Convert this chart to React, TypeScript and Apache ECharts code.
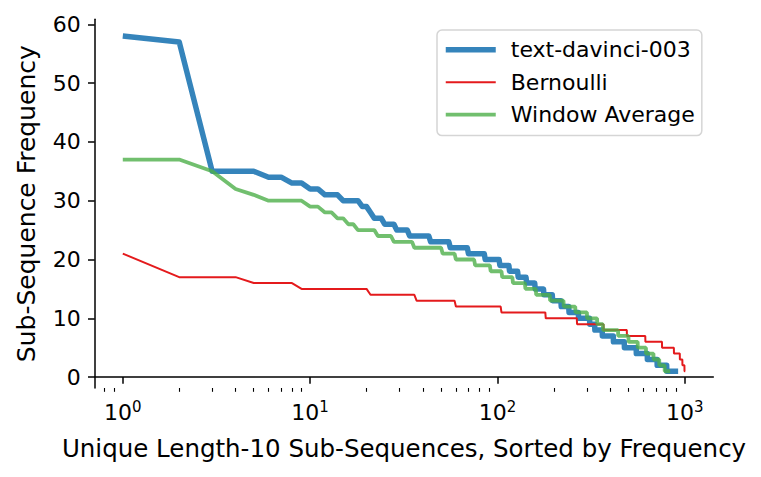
import React, { useEffect, useRef } from "react";
import * as echarts from "echarts";

// Run-length readings: each value holds from the previous run's last rank + 1 up to lastRank.
const davinciValues = [58, 57, 35, 34, 33, 32, 31, 30, 29, 28, 27, 26, 25, 24, 23, 22, 21, 20, 19, 18, 17, 16, 15, 14, 13, 12, 11, 10, 9, 8, 7, 6, 5, 4, 3, 2, 1];
const davinciLastRank = [1, 2, 5, 7, 9, 11, 14, 18, 20, 21, 24, 28, 33, 43, 55, 69, 85, 102, 115, 128, 142, 158, 176, 196, 218, 240, 270, 310, 330, 362, 415, 475, 550, 630, 711, 800, 921];

const bernoulliValues = [21, 17, 16, 15, 14, 13, 12, 11, 10, 9, 8, 7, 6, 5, 4, 3, 2, 1];
const bernoulliLastRank = [1, 4, 8, 20, 36, 59, 104, 180, 265, 368, 490, 615, 755, 874, 940, 970, 995, 1005];

const windowValues = [37, 35, 32, 31, 30, 29, 28, 27, 26, 25, 24, 23, 22, 21, 20, 19, 18, 17, 16, 15, 14, 13, 12, 11, 10, 9, 8, 7, 6, 5, 4, 3, 2, 1];
const windowLastRank = [2, 3, 4, 5, 9, 11, 13, 15, 17, 22, 27, 35, 50, 59, 75, 91, 105, 120, 140, 160, 190, 225, 260, 300, 340, 365, 440, 500, 560, 620, 680, 730, 780, 835];

const seriesNames = ["text-davinci-003", "Bernoulli", "Window Average"];
const yTicks = [0, 10, 20, 30, 40, 50, 60];
const xMajorTicks = [1, 10, 100, 1000];
const xMinorTicks = [0.8, 0.9, 2, 3, 4, 5, 6, 7, 8, 9, 20, 30, 40, 50, 60, 70, 80, 90, 200, 300, 400, 500, 600, 700, 800, 900];

function expand(values: number[], lastRanks: number[]): number[][] {
  const pts: number[][] = [];
  let start = 1;
  values.forEach((v, i) => {
    const end = lastRanks[i];
    pts.push([start, v]);
    if (end > start) pts.push([end, v]);
    start = end + 1;
  });
  return pts;
}

const FONT = "DejaVu Sans";
const TICK_SIZE = 22;
const LABEL_SIZE = 24.5;

export default function App() {
  const ref = useRef<HTMLDivElement>(null);
  useEffect(() => {
    if (!ref.current) return;
    const chart = echarts.init(ref.current, undefined, { renderer: "svg" });
    const axisLineStyle = { color: "#000", width: 1.5 };
    chart.setOption({
      animation: false,
      backgroundColor: "#fff",
      grid: { left: 94.7, right: 47.7, top: 19.3, bottom: 89, containLabel: false },
      xAxis: [
        {
          type: "log",
          logBase: 10,
          min: 0.708,
          max: 1419,
          name: "Unique Length-10 Sub-Sequences, Sorted by Frequency",
          nameLocation: "middle",
          nameGap: 48,
          nameTextStyle: { fontFamily: FONT, fontSize: LABEL_SIZE, color: "#000" },
          axisLine: { show: true, lineStyle: axisLineStyle },
          axisTick: { show: true, inside: false, length: 6.7, lineStyle: axisLineStyle, customValues: xMajorTicks },
          axisLabel: {
            customValues: xMajorTicks,
            margin: 11,
            color: "#000",
            fontFamily: FONT,
            formatter: (v: number) => `{b|10}{s|${Math.round(Math.log10(v))}}`,
            rich: {
              b: { fontFamily: FONT, fontSize: TICK_SIZE, color: "#000", lineHeight: 27 },
              s: { fontFamily: FONT, fontSize: 15, color: "#000", verticalAlign: "top", lineHeight: 16 },
            },
          },
          splitLine: { show: false },
          minorTick: { show: false },
        },
        {
          type: "log",
          logBase: 10,
          min: 0.708,
          max: 1419,
          position: "bottom",
          axisLine: { show: false },
          axisTick: { show: true, inside: false, length: 3.8, lineStyle: { color: "#000", width: 1.1 }, customValues: xMinorTicks },
          axisLabel: { show: false },
          splitLine: { show: false },
        },
      ],
      yAxis: {
        type: "value",
        min: -1.85,
        max: 60.85,
        name: "Sub-Sequence Frequency",
        nameLocation: "middle",
        nameGap: 56,
        nameTextStyle: { fontFamily: FONT, fontSize: 25, color: "#000" },
        axisLine: { show: true, lineStyle: axisLineStyle },
        axisTick: { show: true, inside: false, length: 6.7, lineStyle: axisLineStyle, customValues: yTicks },
        axisLabel: { customValues: yTicks, margin: 14, color: "#000", fontFamily: FONT, fontSize: TICK_SIZE },
        splitLine: { show: false },
      },
      legend: {
        orient: "vertical",
        left: 437,
        top: 30,
        padding: [8.8, 7, 10, 6],
        itemWidth: 50,
        itemHeight: 14,
        itemGap: 10.4,
        borderColor: "#d5d5d5",
        borderWidth: 1.5,
        borderRadius: 5,
        backgroundColor: "#fff",
        itemStyle: { opacity: 0 },
        lineStyle: { width: "inherit" },
        textStyle: { fontFamily: FONT, fontSize: TICK_SIZE, color: "#000", padding: [0, 0, 0, 10] },
        data: seriesNames,
      },
      series: [
        {
          name: seriesNames[0],
          type: "line",
          data: expand(davinciValues, davinciLastRank),
          symbol: "none",
          lineStyle: { color: "#1f77b4", width: 5.5, opacity: 0.9, join: "round" },
          itemStyle: { color: "#1f77b4", opacity: 0.9 },
        },
        {
          name: seriesNames[1],
          type: "line",
          data: expand(bernoulliValues, bernoulliLastRank),
          symbol: "none",
          lineStyle: { color: "#e41a1c", width: 2 },
          itemStyle: { color: "#e41a1c" },
        },
        {
          name: seriesNames[2],
          type: "line",
          data: expand(windowValues, windowLastRank),
          symbol: "none",
          lineStyle: { color: "#4daf4a", width: 3.8, opacity: 0.8 },
          itemStyle: { color: "#4daf4a", opacity: 0.8 },
        },
      ],
    });
    return () => chart.dispose();
  }, []);
  return <div ref={ref} style={{ position: "absolute", left: 0, top: 0, width: 761, height: 477 }} />;
}
